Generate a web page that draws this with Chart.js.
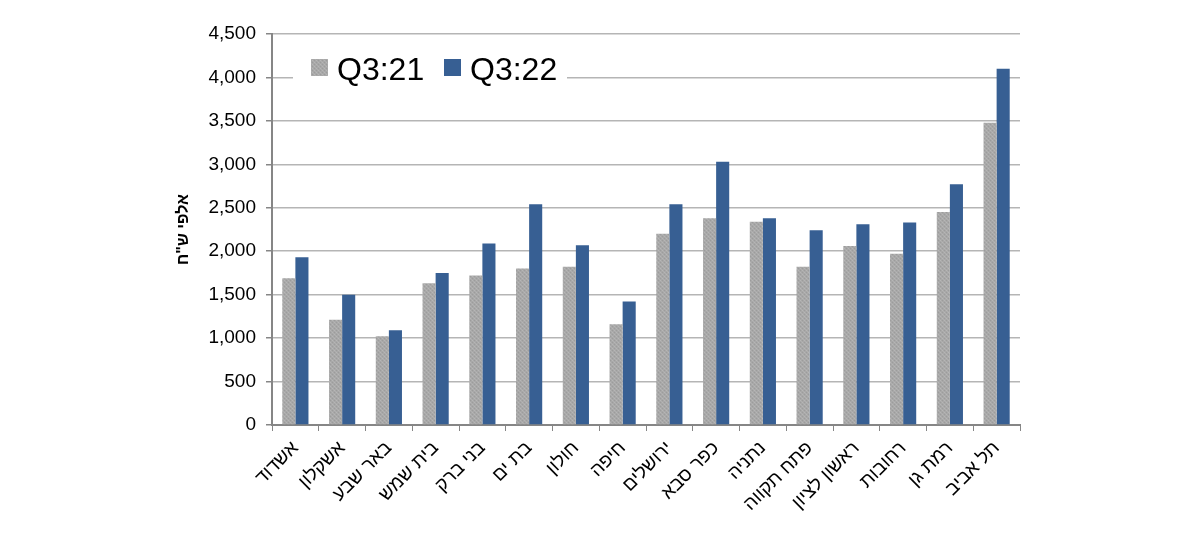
<!DOCTYPE html>
<html lang="he">
<head>
<meta charset="utf-8">
<script src="https://cdn.jsdelivr.net/npm/chart.js@4"></script>
<style>
  html, body { margin: 0; padding: 0; background: #fff; }
  #wrap { width: 1200px; height: 541px; }
</style>
</head>
<body>
<div id="wrap"><canvas id="chart" width="1200" height="541"></canvas></div>
<script>
// Cities (x categories)
var cities = ['אשדוד', 'אשקלון', 'באר שבע', 'בית שמש', 'בני ברק', 'בת ים', 'חולון', 'חיפה',
  'ירושלים', 'כפר סבא', 'נתניה', 'פתח תקווה', 'ראשון לציון', 'רחובות', 'רמת גן', 'תל אביב'];

// Values, thousands of NIS
var q321 = [1690, 1210, 1020, 1630, 1720, 1800, 1820, 1160, 2200, 2380, 2340, 1820, 2060, 1970, 2450, 3480];
var q322 = [1930, 1500, 1090, 1750, 2090, 2540, 2070, 1420, 2540, 3030, 2380, 2240, 2310, 2330, 2770, 4100];

var seriesNames = ['Q3:21', 'Q3:22'];
var yMax = 4500;
var yStep = 500;
var yTitle = 'אלפי ש"ח';

(function () {
    'use strict';

    // Fine dithered gray texture for the Q3:21 bars.
    function grayPattern() {
        var c = document.createElement('canvas');
        c.width = 4; c.height = 4;
        var g = c.getContext('2d');
        g.fillStyle = '#a8a8a8';
        g.fillRect(0, 0, 4, 4);
        g.fillStyle = '#b6b6b6';
        g.fillRect(0, 0, 1, 1); g.fillRect(2, 2, 1, 1);
        g.fillStyle = '#9c9c9c';
        g.fillRect(2, 0, 1, 1); g.fillRect(0, 2, 1, 1);
        g.fillStyle = '#afafaf';
        g.fillRect(1, 1, 1, 1); g.fillRect(3, 3, 1, 1);
        return g.createPattern(c, 'repeat');
    }

    var font = "'Liberation Sans', Arial, sans-serif";
    var ctx0 = document.getElementById('chart');
    var gray = grayPattern();
    var colors = [gray, '#375f93'];

    // Legend drawn inside the plot, on a white box.
    var insideLegend = {
        id: 'insideLegend',
        afterDatasetsDraw: function (chart) {
            var c = chart.ctx;
            c.save();
            c.fillStyle = '#fff';
            c.fillRect(293, 46, 274, 48);
            c.font = '32px ' + font;
            c.textBaseline = 'alphabetic';
            c.textAlign = 'left';
            var x = 311;
            seriesNames.forEach(function (name, i) {
                c.fillStyle = colors[i];
                c.fillRect(x, 59, 17, 17);
                c.fillStyle = '#000';
                c.fillText(name, x + 26, 80);
                x += 133;
            });
            c.restore();
        }
    };

    new Chart(ctx0, {
        type: 'bar',
        data: {
            labels: cities,
            datasets: [{
                label: seriesNames[0],
                data: q321,
                backgroundColor: colors[0],
                borderWidth: 0
            }, {
                label: seriesNames[1],
                data: q322,
                backgroundColor: colors[1],
                borderWidth: 0
            }]
        },
        options: {
            responsive: false,
            animation: false,
            devicePixelRatio: 1,
            layout: { padding: { left: 168, right: 180, top: 34, bottom: 0 } },
            datasets: { bar: { barPercentage: 1, categoryPercentage: 0.56 } },
            plugins: {
                legend: { display: false },
                tooltip: { enabled: false }
            },
            scales: {
                x: {
                    afterFit: function (s) { s.height = 116; },
                    grid: {
                        drawOnChartArea: false,
                        offset: true,
                        tickLength: 6,
                        color: '#868686'
                    },
                    border: { color: '#868686', width: 2 },
                    ticks: {
                        maxRotation: 45,
                        minRotation: 45,
                        autoSkip: false,
                        padding: 6,
                        color: '#000',
                        font: { family: font, size: 19 }
                    }
                },
                y: {
                    min: 0,
                    max: yMax,
                    afterFit: function (s) { s.width = 104; },
                    grid: {
                        color: '#b5b5b5',
                        tickColor: '#868686',
                        tickLength: 6,
                        lineWidth: 1.5
                    },
                    border: { color: '#868686', width: 2 },
                    ticks: {
                        stepSize: yStep,
                        padding: 10,
                        color: '#000',
                        font: { family: font, size: 19 },
                        callback: function (v) { return v.toLocaleString('en-US'); }
                    },
                    title: {
                        display: true,
                        text: yTitle,
                        color: '#000',
                        padding: { top: 6, bottom: 0 },
                        font: { family: font, size: 16, weight: 'bold' }
                    }
                }
            }
        },
        plugins: [insideLegend]
    });
})();
</script>
</body>
</html>
